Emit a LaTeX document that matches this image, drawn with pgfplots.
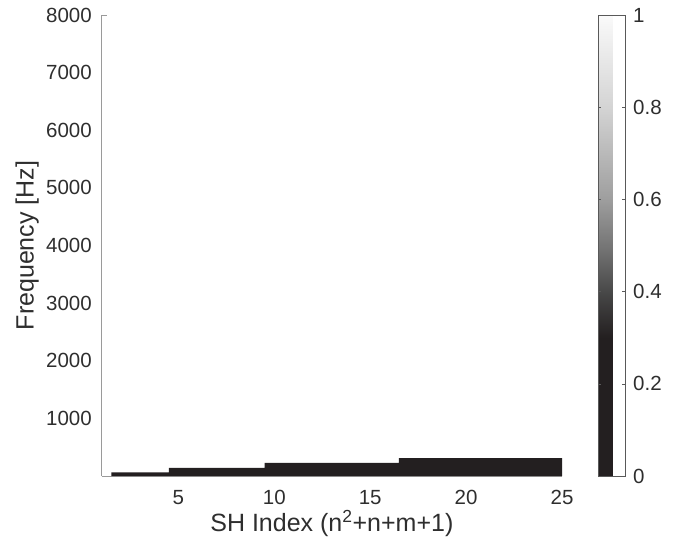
\documentclass[border=0pt]{standalone}
\usepackage{pgfplots}
\pgfplotsset{compat=1.18}
\usepackage{fontspec}
\setmainfont{Liberation Sans}
\definecolor{txt}{HTML}{2E2E2E}
\definecolor{axgray}{HTML}{9A9A9A}
\definecolor{dark}{RGB}{35,31,32}
\pgfplotsset{
  colormap={mygray}{rgb255(0pt)=(35,31,32); rgb255(30pt)=(35,31,32); rgb255(40pt)=(72,72,72); rgb255(50pt)=(118,118,118); rgb255(60pt)=(158,158,158); rgb255(80pt)=(212,212,212); rgb255(100pt)=(250,250,250)}
}
\begin{document}
\begin{tikzpicture}
\path[use as bounding box] (0,0) rectangle (679pt,550pt);
\begin{axis}[
  at={(101.7pt,74pt)}, anchor=south west,
  scale only axis, width=460.3pt, height=461pt,
  xmin=1, xmax=25, ymin=0, ymax=8000,
  axis x line*=bottom, axis y line*=left,
  axis line style={axgray, line width=0.6pt},
  xtick={5,10,...,25}, ytick={1000,2000,...,8000},
  major tick length=0pt,
  extra y ticks={8000}, extra y tick labels={},
  extra y tick style={major tick length=5pt, tick align=inside, tick style={axgray, line width=0.6pt}},
  /pgf/number format/assume math mode=true,
  scaled y ticks=false,
  yticklabel style={/pgf/number format/1000 sep={}, anchor=east, inner sep=0pt, xshift=-9.7pt},
  xticklabel style={anchor=base, inner sep=0pt, yshift=-28pt},
  tick label style={font=\fontsize{20.5}{22}\selectfont, text=txt},
  label style={font=\fontsize{25}{27}\selectfont, text=txt},
  xlabel={SH Index (n\textsuperscript{2}+n+m+1)},
  ylabel={Frequency [Hz]},
  xlabel style={at={(axis description cs:0.5,-0.12)}, anchor=base, inner sep=0pt},
  ylabel style={at={(axis description cs:-0.1477,0.5)}, anchor=base, inner sep=0pt},
  colormap name=mygray,
  point meta min=0, point meta max=1,
  colorbar,
  colorbar style={
    at={(parent axis.south east)}, anchor=south west, xshift=27.5pt,
    width=27pt, height=461pt, scale only axis,
    ytick={0,0.2,...,1},
    yticklabels={0,0.2,0.4,0.6,0.8,1},
    axis line style={black!65, line width=0.6pt},
    major tick length=3pt, tick align=inside,
    tick style={black!65, line width=0.6pt},
    yticklabel pos=right,
    yticklabel style={anchor=west, inner sep=0pt, xshift=8pt, font=\fontsize{20.5}{22}\selectfont, text=txt},
  },
]
\addplot[draw=none, fill=dark, const plot, forget plot] coordinates {
  (1.5,62) (4.5,140) (9.5,226) (16.5,310) (25,310)
} \closedcycle;
\end{axis}
\end{tikzpicture}
\end{document}
